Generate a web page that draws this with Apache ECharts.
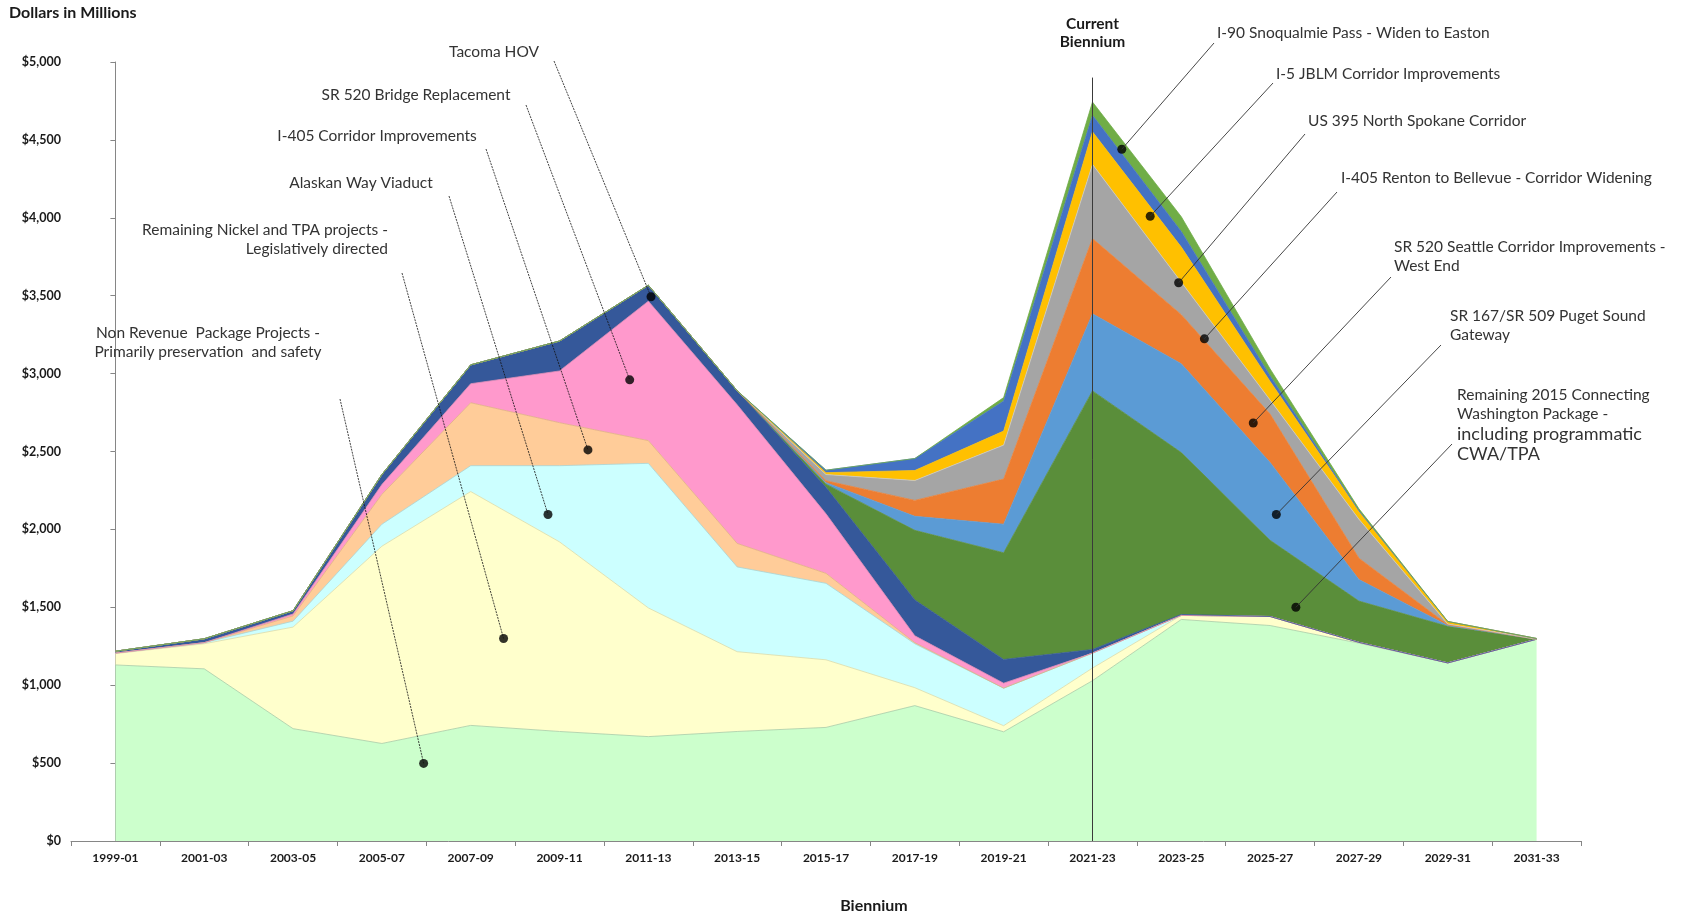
<!DOCTYPE html>
<html>
<head>
<meta charset="utf-8">
<script src="https://cdn.jsdelivr.net/npm/echarts@6/dist/echarts.min.js"></script>
<style>html,body{margin:0;padding:0;background:#fff}#c{width:1691px;height:913px}</style>
</head>
<body>
<div id="c"></div>
<script>
// ---------- DATA ----------
const categories = ['1999-01','2001-03','2003-05','2005-07','2007-09','2009-11','2011-13','2013-15','2015-17','2017-19','2019-21','2021-23','2023-25','2025-27','2027-29','2029-31','2031-33'];
const yTicks = [0,500,1000,1500,2000,2500,3000,3500,4000,4500,5000];

const nonRevenue   = [1130,1105,721,626,742,703,670,703,729,869,701,1029,1422,1383,1270,1143,1295];
const nickelTpa    = [73,161,652,1266,1501,1217,826,512,434,115,39,81,26,58,5,0,0];
const alaskanWay   = [3,7,38,141,166,489,928,544,491,282,241,96,0,0,0,0,0];
const i405Corridor = [0,0,34,192,404,276,146,151,64,7,0,0,0,0,0,0,0];
const sr520Bridge  = [0,0,12,63,122,332,895,890,382,44,32,0,0,0,0,0,0];
const tacomaHov    = [12,25,21,64,121,192,102,90,170,230,152,23,6,0,0,0,0];
const cwa2015      = [0,0,0,0,0,0,0,0,20,447,685,1660,1039,489,265,235,0];
const sr167sr509   = [0,0,0,0,0,0,0,0,10,90,183,495,570,499,138,5,0];
const sr520Seattle = [0,0,0,0,0,0,0,0,12,102,290,483,315,311,137,5,0];
const i405Renton   = [0,0,0,0,0,0,0,0,40,128,218,476,209,90,250,5,0];
const us395        = [0,0,0,0,0,0,0,0,12,64,90,209,225,120,50,16,5];
const i5Jblm       = [0,0,0,0,0,0,0,0,16,77,193,106,100,35,5,0,0];
const i90          = [0,0,0,0,0,0,0,0,0,0,22,85,95,45,12,0,0];

const seriesNames = ['Non Revenue Package Projects','Remaining Nickel and TPA projects','Alaskan Way Viaduct','I-405 Corridor Improvements','SR 520 Bridge Replacement','Tacoma HOV','Remaining 2015 Connecting Washington Package','SR 167/SR 509 Puget Sound Gateway','SR 520 Seattle Corridor Improvements - West End','I-405 Renton to Bellevue - Corridor Widening','US 395 North Spokane Corridor','I-5 JBLM Corridor Improvements','I-90 Snoqualmie Pass - Widen to Easton'];
const seriesValues = [nonRevenue,nickelTpa,alaskanWay,i405Corridor,sr520Bridge,tacomaHov,cwa2015,sr167sr509,sr520Seattle,i405Renton,us395,i5Jblm,i90];

// annotation callouts: text lines and the point (category position, value) each one points to
const calloutTexts = [
  ['Tacoma HOV'],
  ['SR 520 Bridge Replacement'],
  ['I-405 Corridor Improvements'],
  ['Alaskan Way Viaduct'],
  ['Remaining Nickel and TPA projects -','Legislatively directed'],
  ['Non Revenue  Package Projects -','Primarily preservation  and safety'],
  ['I-90 Snoqualmie Pass - Widen to Easton'],
  ['I-5 JBLM Corridor Improvements'],
  ['US 395 North Spokane Corridor'],
  ['I-405 Renton to Bellevue - Corridor Widening'],
  ['SR 520 Seattle Corridor Improvements -','West End'],
  ['SR 167/SR 509 Puget Sound','Gateway'],
  ['Remaining 2015 Connecting','Washington Package -','including programmatic','CWA/TPA']
];
const calloutAnchorCat = [6.03,5.79,5.32,4.87,4.37,3.47,11.33,11.65,11.97,12.26,12.81,13.07,13.29];
const calloutAnchorVal = [3493,2960,2510,2096,1300,498,4440,4010,3583,3223,2683,2096,1500];
const currentBiennium = '2021-23';
const currentLineTop = 4900;

// ---------- STYLE / LAYOUT ----------
const colors = ['#CCFFCC','#FFFFCC','#CCFFFF','#FFCC99','#FF99CC','#35589A','#5A8E3A','#5B9BD5','#ED7D31','#A5A5A5','#FFC000','#4472C4','#70AD47'];
const edgeColors = ['#a6cca6','#dcdca8','#a6d4d4','#e0b080','#e088b4','#35589A','#5A8E3A','#5B9BD5','#ED7D31','#c8c8c8','#FFC000','#4472C4','#70AD47'];
const calloutLayout = [
  {x:494,y:52,align:'center',lx:554,ly:61},
  {x:416,y:95,align:'center',lx:526,ly:105},
  {x:377,y:136,align:'center',lx:486,ly:149},
  {x:361,y:183,align:'center',lx:449,ly:196},
  {x:388,y:230,align:'right',lx:402,ly:273},
  {x:208,y:333,align:'center',lx:340,ly:399},
  {x:1217,y:33,align:'left',lx:1214,ly:43},
  {x:1276,y:74,align:'left',lx:1273,ly:83},
  {x:1308,y:121,align:'left',lx:1305,ly:134},
  {x:1341,y:178,align:'left',lx:1337,ly:192},
  {x:1394,y:247,align:'left',lx:1391,ly:277},
  {x:1450,y:316,align:'left',lx:1441,ly:345},
  {x:1457,y:395,align:'left',lx:1452,ly:444,big:[2,3]}
];
const FONT = 'Lato, "Open Sans", sans-serif';

const chart = echarts.init(document.getElementById('c'));
const catIndex = categories.indexOf(currentBiennium);

const series = seriesValues.map((vals, i) => ({
  name: seriesNames[i],
  type: 'line',
  stack: 'total',
  data: vals,
  symbol: 'none',
  silent: true,
  lineStyle: {width: 0.8, color: edgeColors[i]},
  areaStyle: {color: colors[i], opacity: 1},
  itemStyle: {color: colors[i]},
  z: 2
}));
series.push({
  name: 'callouts',
  type: 'scatter',
  xAxisIndex: 1,
  yAxisIndex: 0,
  data: calloutAnchorCat.map((c, i) => [c, calloutAnchorVal[i]]),
  symbolSize: 9,
  itemStyle: {color: '#000'},
  silent: true,
  z: 10,
  markLine: {
    silent: true,
    symbol: 'none',
    label: {show: false},
    lineStyle: {color: '#3a3a3a', width: 1, type: 'solid'},
    data: [[{coord: [catIndex, 0]}, {coord: [catIndex, currentLineTop]}]]
  }
});

chart.setOption({
  animation: false,
  backgroundColor: '#fff',
  grid: {left: 71, right: 110, top: 62, bottom: 72, containLabel: false},
  xAxis: [{
    type: 'category',
    data: categories,
    boundaryGap: true,
    axisLine: {lineStyle: {color: '#868686', width: 1}},
    axisTick: {show: true, length: 5, lineStyle: {color: '#868686'}},
    axisLabel: {interval: 0, margin: 11, fontFamily: FONT, fontWeight: 'bold', fontSize: 12, color: '#1a1a1a'},
    splitLine: {show: false}
  }, {
    type: 'value',
    min: -0.5,
    max: categories.length - 0.5,
    show: false
  }],
  yAxis: {
    type: 'value',
    min: yTicks[0],
    max: yTicks[yTicks.length - 1],
    interval: yTicks[1] - yTicks[0],
    axisLine: {show: true, lineStyle: {color: '#868686', width: 1}},
    axisTick: {show: true, length: 5, lineStyle: {color: '#868686'}},
    splitLine: {show: false},
    axisLabel: {
      margin: 10, fontFamily: FONT, fontWeight: 'bold', fontSize: 12.5, color: '#1a1a1a',
      formatter: v => '$' + v.toLocaleString('en-US')
    }
  },
  series: series
});

// callout texts and leader lines
const graphics = [];
function addText(text, x, y, font, align, fill) {
  graphics.push({type: 'text', z: 20, silent: true, style: {text: text, x: x, y: y, font: font, fill: fill || '#1a1a1a', align: align, verticalAlign: 'middle', textAlign: align, textVerticalAlign: 'middle'}});
}
addText('Dollars in Millions', 9, 13, 'bold 16px ' + FONT, 'left');
addText('Biennium', 874, 906, 'bold 16px ' + FONT, 'center');
const cbX = chart.convertToPixel({xAxisIndex: 0}, currentBiennium);
addText('Current', cbX, 24, 'bold 15.5px ' + FONT, 'center');
addText('Biennium', cbX, 42, 'bold 15.5px ' + FONT, 'center');

calloutTexts.forEach((lines, i) => {
  const L = calloutLayout[i];
  let y = L.y;
  lines.forEach((t, j) => {
    const big = L.big && L.big.indexOf(j) >= 0;
    const size = big ? 18 : 15.5;
    if (j > 0) y += big ? 20.5 : 18.5;
    addText(t, L.x, y, size + 'px ' + FONT, L.align, '#333');
  });
  const p = chart.convertToPixel({xAxisIndex: 1, yAxisIndex: 0}, [calloutAnchorCat[i], calloutAnchorVal[i]]);
  const st = i < 6 ? {stroke: '#111', lineWidth: 0.8, lineDash: [2, 1]} : {stroke: '#333', lineWidth: 0.9};
  graphics.push({type: 'line', z: 15, silent: true, shape: {x1: L.lx, y1: L.ly, x2: p[0], y2: p[1]}, style: st});
});
chart.setOption({graphic: graphics});
</script>
</body>
</html>
